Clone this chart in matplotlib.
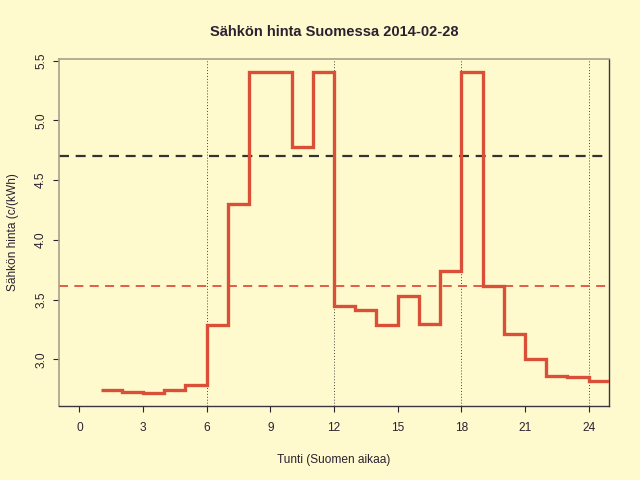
import matplotlib
matplotlib.use("Agg")
import matplotlib.pyplot as plt
import numpy as np

hours = list(range(1, 26))
prices = [2.745, 2.726, 2.717, 2.740, 2.787, 3.287, 4.300, 5.404, 5.407, 4.775,
          5.403, 3.449, 3.413, 3.285, 3.533, 3.293, 3.737, 5.403, 3.617, 3.215,
          3.000, 2.857, 2.849, 2.820, 2.820]
xticks = [0, 3, 6, 9, 12, 15, 18, 21, 24]
yticks = [3.0, 3.5, 4.0, 4.5, 5.0, 5.5]
vlines = [6, 12, 18, 24]
ref_price = 4.705
mean_price = float(np.mean(prices[:24]))

bg = "#FFFACD"
txt = "#2a2230"
plt.rcParams['font.family'] = ['Liberation Sans', 'DejaVu Sans']

fig = plt.figure(figsize=(6.4, 4.8), dpi=100, facecolor=bg)
ax = fig.add_axes([59/640, 1-406/480, (609-59)/640, (406-59)/480], facecolor=bg)

for v in vlines:
    ax.axvline(v, color="#444444", lw=0.7, ls=(0, (1, 2)), zorder=1)
ax.axhline(ref_price, color="#333333", lw=1.6, ls=(0, (4.5, 3)), zorder=2)
ax.axhline(mean_price, color="#E0503C", lw=1.3, ls=(0, (5, 3.5)), zorder=2)
ax.step(hours, prices, where="post", color="#D94F38", lw=2.4, zorder=3,
        solid_joinstyle="miter", solid_capstyle="butt")

ax.set_xlim(-0.96, 24.96)
ymin, ymax = 2.717, 5.407
d = (ymax - ymin) * 0.04
ax.set_ylim(ymin - d, ymax + d)
ax.set_xticks(xticks)
ax.set_xticklabels([str(t) for t in xticks])
ax.set_yticks(yticks)
ax.set_yticklabels([f"{t:.1f}" for t in yticks], rotation=90, va="center")

ax.tick_params(axis="both", direction="out", length=4.5, width=0.8, colors=txt,
               labelsize=8.6)
ax.tick_params(axis="x", pad=7)
ax.tick_params(axis="y", pad=4)
for s in ["top", "left"]:
    ax.spines[s].set_color("#a8a08c")
    ax.spines[s].set_linewidth(1.2)
for s in ["bottom", "right"]:
    ax.spines[s].set_color("#3a3440")
    ax.spines[s].set_linewidth(1.0)

ax.set_title("Sähkön hinta Suomessa 2014-02-28", fontsize=10.5, fontweight="bold",
             color=txt, pad=16.5)
ax.set_xlabel("Tunti (Suomen aikaa)", fontsize=8.6, color=txt, labelpad=14.5)
ax.set_ylabel("Sähkön hinta (c/(kWh)", fontsize=8.6, color=txt, labelpad=11.5)

fig.savefig("out.png", dpi=100, facecolor=bg)
